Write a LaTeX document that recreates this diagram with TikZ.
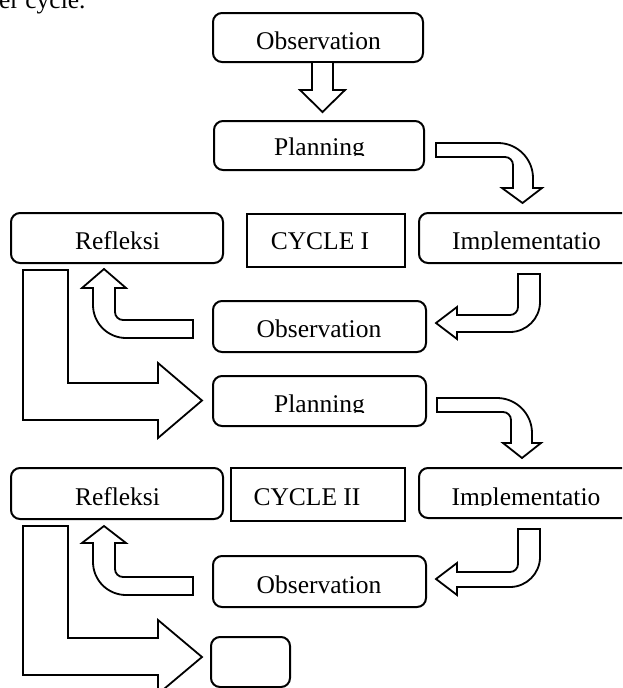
\documentclass[tikz,border=0pt]{standalone}
\usepackage{fontspec}
\setmainfont{Liberation Serif}
\newcommand\cliplabel[4]{%
  \begin{scope}
    \clip (#2-120,#3-40) rectangle (#2+120,#3+0.8);
    \node[lbl] (#1) at (#2,#3) {#4};
  \end{scope}}
\begin{document}
\begin{tikzpicture}[x=1pt,y=-1pt,
  box/.style={draw, line width=2pt, rounded corners=9pt, inner sep=0pt},
  sqbox/.style={draw, line width=2pt, inner sep=0pt},
  lbl/.style={anchor=base, inner sep=0pt, font=\fontsize{25.5pt}{30pt}\selectfont},
  barrow/.style={draw, fill=white, line width=1.8pt, line join=miter}]
\clip (0,0) rectangle (622,688);

% caption fragment at the top
\node[lbl, anchor=base west] (cap) at (-1,9) {er cycle.};

% boxes
\node[box, minimum width=210pt, minimum height=49pt] (obs1) at (318,37.5) {};
\node[box, minimum width=210pt, minimum height=49pt] (plan1) at (319,145.5) {};
\node[box, minimum width=212pt, minimum height=50pt] (ref1) at (117,238) {};
\node[sqbox, minimum width=158pt, minimum height=53pt] (cyc1) at (326,240.5) {};
\node[box, minimum width=212pt, minimum height=50pt] (imp1) at (525,238) {};
\node[box, minimum width=213pt, minimum height=51pt] (obs2) at (319.5,326.5) {};
\node[box, minimum width=213pt, minimum height=50pt] (plan2) at (319.5,401) {};
\node[box, minimum width=212pt, minimum height=51pt] (ref2) at (117,493.5) {};
\node[sqbox, minimum width=174pt, minimum height=53pt] (cyc2) at (318,494.5) {};
\node[box, minimum width=212pt, minimum height=50pt] (imp2) at (525,493) {};
\node[box, minimum width=213pt, minimum height=51pt] (obs3) at (319.5,581.5) {};
\node[box, minimum width=79pt, minimum height=50pt] (empty) at (250.5,662) {};

% labels
\cliplabel{tobs1}{318.5}{49}{Observation}
\cliplabel{tplan1}{319.5}{155}{Planning}
\cliplabel{tref1}{117.5}{249}{Refleksi}
\cliplabel{tcyc1}{320}{249}{CYCLE I}
\cliplabel{timp1}{526.5}{249}{Implementatio}
\cliplabel{tobs2}{319}{337}{Observation}
\cliplabel{tplan2}{319.5}{412}{Planning}
\cliplabel{tref2}{117.5}{505}{Refleksi}
\cliplabel{tcyc2}{307}{505}{CYCLE II}
\cliplabel{timp2}{526}{505}{Implementatio}
\cliplabel{tobs3}{319}{593}{Observation}

% block arrows
\draw[barrow] (312,62) -- (312,90) -- (300,90) -- (322.5,112) -- (345,90) -- (333,90) -- (333,62) -- cycle;

\draw[barrow] (436,143) -- (498,143) .. controls (517.25,143) and (533,158.75) .. (533,178) -- (533,188) -- (542,188) -- (522.5,203) -- (502,188) -- (513,188) -- (513,165) .. controls (513,160.6) and (509.4,157) .. (505,157) -- (436,157) -- cycle;

\draw[barrow] (437,398) -- (497,398) .. controls (516.25,398) and (532,413.75) .. (532,433) -- (532,443) -- (541,443) -- (522,458) -- (503,443) -- (511,443) -- (511,420) .. controls (511,415.6) and (507.4,412) .. (503,412) -- (437,412) -- cycle;

\draw[barrow] (518,274) -- (540,274) -- (540,302) .. controls (540,318.5) and (526.5,332) .. (510,332) -- (457,332) -- (457,339) -- (436,323) -- (457,307) -- (457,315) -- (510,315) .. controls (514.4,315) and (518,311.4) .. (518,307) -- cycle;

\draw[barrow] (518,529) -- (540,529) -- (540,557) .. controls (540,573.5) and (526.5,587) .. (510,587) -- (457,587) -- (457,595) -- (436,579) -- (457,563) -- (457,572) -- (510,572) .. controls (514.4,572) and (518,568.4) .. (518,564) -- cycle;

\draw[barrow] (193,320) -- (123,320) .. controls (118.6,320) and (115,316.4) .. (115,312) -- (115,288) -- (126,288) -- (104,269) -- (82,288) -- (93,288) -- (93,305) .. controls (93,323.2) and (107.8,338) .. (126,338) -- (193,338) -- cycle;

\draw[barrow] (193,577) -- (123,577) .. controls (118.6,577) and (115,573.4) .. (115,569) -- (115,543) -- (126,543) -- (104,526) -- (82,543) -- (93,543) -- (93,562) .. controls (93,580.2) and (107.8,595) .. (126,595) -- (193,595) -- cycle;

\draw[barrow] (23,270) -- (68,270) -- (68,383) -- (158,383) -- (158,363) -- (202,400.5) -- (158,438) -- (158,420) -- (23,420) -- cycle;

\draw[barrow] (23,526) -- (68,526) -- (68,638) -- (158,638) -- (158,620) -- (202,657) -- (158,694) -- (158,675) -- (23,675) -- cycle;
\end{tikzpicture}
\end{document}
